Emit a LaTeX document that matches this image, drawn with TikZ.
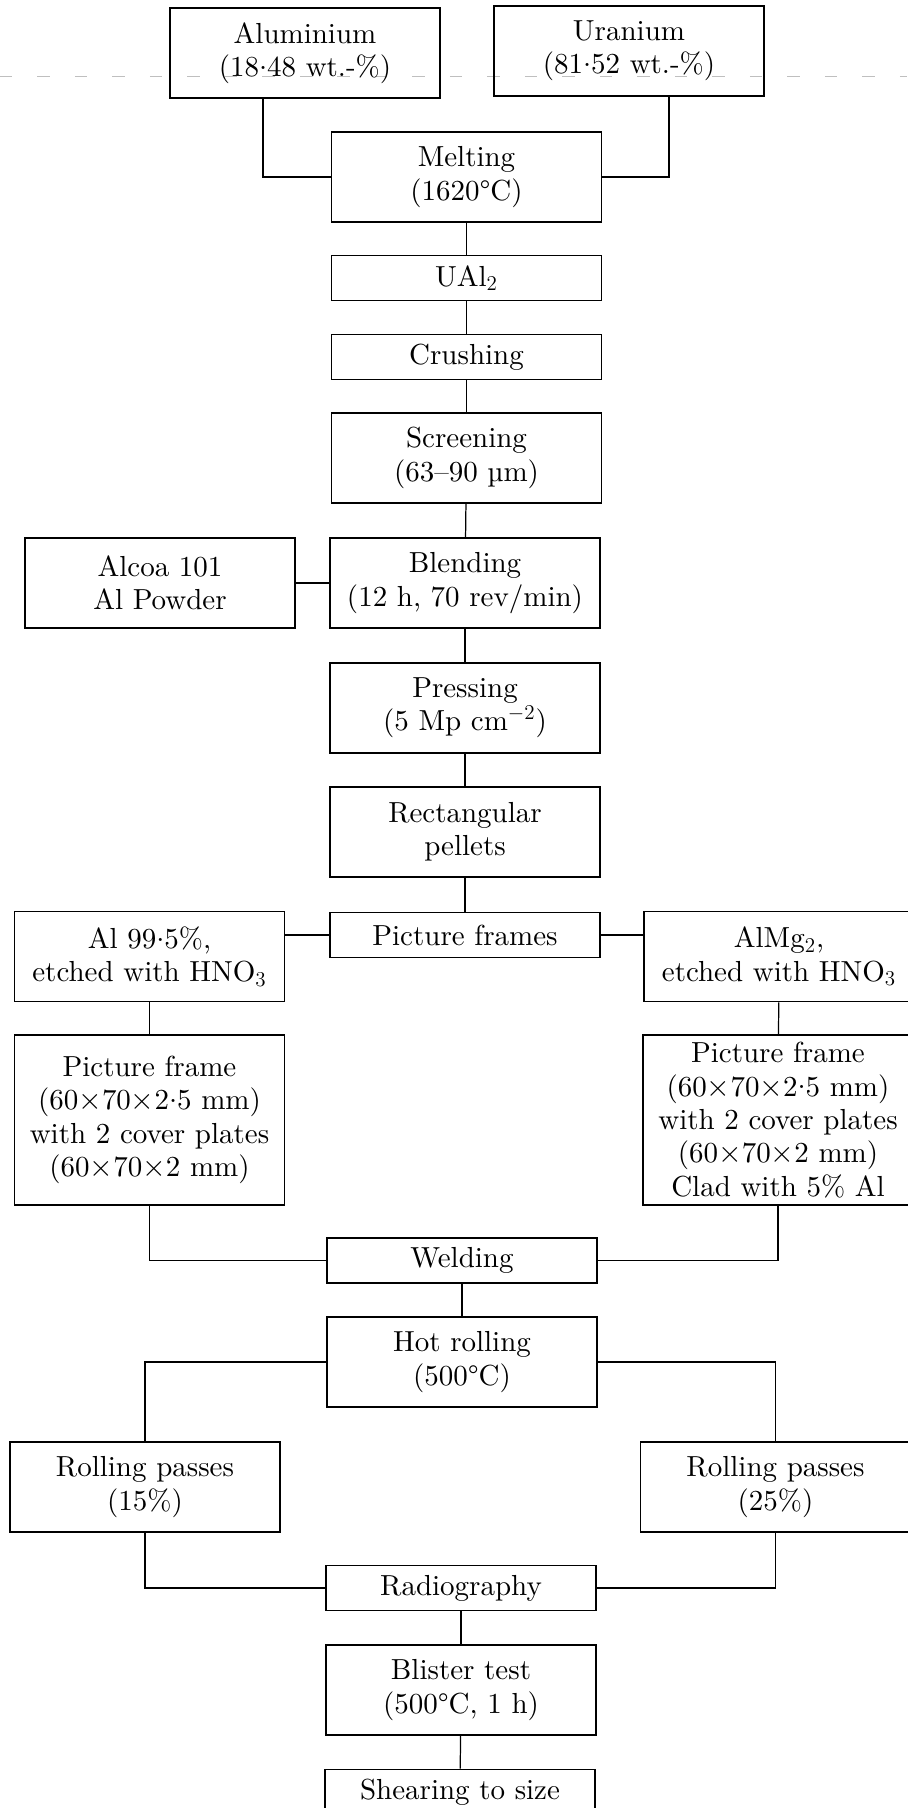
\documentclass[tikz,border=0pt]{standalone}
\usepackage{amsmath, amssymb}
\usepackage{fontspec}
\setmainfont{lmroman10-regular.otf}
\usepackage{tikz}
\usetikzlibrary{calc}
\newcommand{\dpt}{\raisebox{0.25em}{.}}
\tikzset{
    procbox/.style={draw, line width=1pt, align=center, inner sep=0pt,
        minimum width=5.4cm, minimum height=1.8cm,
        font=\fontsize{16.5}{19}\selectfont},
    slimbox/.style={procbox, minimum height=0.9cm},
    tallbox/.style={procbox, minimum height=3.4cm},
    wire/.style={line width=0.7pt}
}

\begin{document}
\begin{tikzpicture}[x=0.02cm, y=-0.02cm]
    \useasboundingbox (0,0) rectangle (907,1808);

    % Faint fold line of the scan
    \draw[gray!50, line width=0.5pt, dash pattern=on 0.25cm off 0.5cm] (0,76) -- (907,76);

    % Starting materials
    \node[procbox] (alu) at (305,53) {Aluminium\\(18\dpt 48 wt.-\%)};
    \node[procbox] (ura) at (629,51) {Uranium\\(81\dpt 52 wt.-\%)};

    % Main column
    \node[procbox] (melt)   at (466.5,177)  {Melting\\(1620°C)};
    \node[slimbox] (ual)    at (466.5,278)  {UAl$_2$};
    \node[slimbox] (crush)  at (466.5,357)  {Crushing};
    \node[procbox] (screen) at (466.5,458)  {Screening\\(63–90 µm)};
    \node[procbox] (blend)  at (465,583)    {Blending\\(12 h, 70 rev/min)};
    \node[procbox] (press)  at (465,708)    {Pressing\\(5 Mp cm$^{-2}$)};
    \node[procbox] (pellet) at (465,832)    {Rectangular\\pellets};
    \node[slimbox] (frames) at (465,935)    {Picture frames};
    \node[slimbox] (weld)   at (462,1260.5) {Welding};
    \node[procbox] (hot)    at (462,1362)   {Hot rolling\\(500°C)};
    \node[slimbox] (radio)  at (461,1588)   {Radiography};
    \node[procbox] (blister) at (461,1690)  {Blister test\\(500°C, 1 h)};
    \node[slimbox] (shear)  at (460,1792)   {Shearing to size};

    % Side branches
    \node[procbox] (alcoa)  at (160,583)    {Alcoa 101\\Al Powder};
    \node[procbox] (alpure) at (149.5,956.5) {Al 99\dpt 5\%,\\etched with HNO$_3$};
    \node[procbox] (almg)   at (779,956.5)  {AlMg$_2$,\\etched with HNO$_3$};
    \node[tallbox] (frameL) at (149.5,1120) {Picture frame\\(60$\times$70$\times$2\dpt 5 mm)\\with 2 cover plates\\(60$\times$70$\times$2 mm)};
    \node[tallbox] (frameR) at (778,1120)   {Picture frame\\(60$\times$70$\times$2\dpt 5 mm)\\with 2 cover plates\\(60$\times$70$\times$2 mm)\\Clad with 5\% Al};
    \node[procbox] (rollL)  at (145,1487)   {Rolling passes\\(15\%)};
    \node[procbox] (rollR)  at (775.5,1487) {Rolling passes\\(25\%)};

    % Connections
    \draw[wire] ($(alu.south)+(-42,0)$) |- (melt.west);
    \draw[wire] ($(ura.south)+(40,0)$) |- (melt.east);
    \foreach \a/\b in {melt/ual, ual/crush, crush/screen, screen/blend, blend/press,
                       press/pellet, pellet/frames, weld/hot, radio/blister, blister/shear} {
        \draw[wire] (\a) -- (\b);
    }
    \draw[wire] (alcoa) -- (blend);
    \draw[wire] (frames.west) -- (frames.west -| alpure.east);
    \draw[wire] (frames.east) -- (frames.east -| almg.west);
    \draw[wire] (alpure) -- (frameL);
    \draw[wire] (almg) -- (frameR);
    \draw[wire] (frameL.south) |- (weld.west);
    \draw[wire] (frameR.south) |- (weld.east);
    \draw[wire] (hot.west) -| (rollL.north);
    \draw[wire] (hot.east) -| (rollR.north);
    \draw[wire] (rollL.south) |- (radio.west);
    \draw[wire] (rollR.south) |- (radio.east);

\end{tikzpicture}
\end{document}
